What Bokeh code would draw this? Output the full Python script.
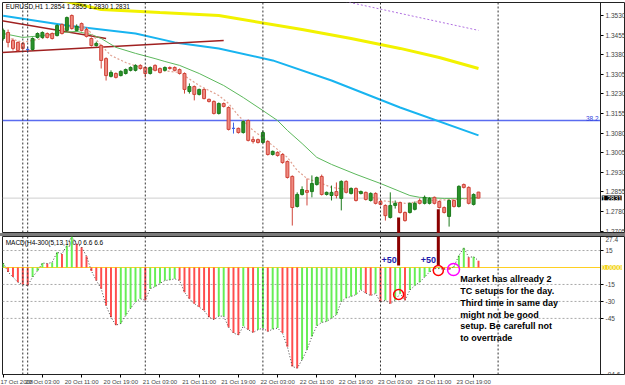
from bokeh.plotting import figure
from bokeh.models import (Range1d, LinearAxis, FixedTicker, Label, ColumnDataSource,
                          PrintfTickFormatter, Span, Div)
from bokeh.layouts import column
from bokeh.embed import file_html
from bokeh.resources import INLINE
from bokeh.core.properties import value

# ---------------- data ----------------
opens = [1.3442, 1.3465, 1.3434, 1.3427, 1.3423, 1.3400, 1.3400, 1.3446, 1.3446, 1.3461,
         1.3461, 1.3453, 1.3496, 1.3473, 1.3530, 1.3473, 1.3499, 1.3476, 1.3442, 1.3415,
         1.3415, 1.3365, 1.3297, 1.3308, 1.3300, 1.3308, 1.3320, 1.3320, 1.3339, 1.3331,
         1.3308, 1.3339, 1.3327, 1.3320, 1.3331, 1.3331, 1.3323, 1.3308, 1.3239, 1.3258,
         1.3228, 1.3247, 1.3209, 1.3201, 1.3155, 1.3193, 1.3178, 1.3098, 1.3098, 1.3082,
         1.3128, 1.3055, 1.3055, 1.3044, 1.3048, 1.2998, 1.3006, 1.2998, 1.2971, 1.2914,
         1.2799, 1.2845, 1.2860, 1.2856, 1.2883, 1.2914, 1.2845, 1.2841, 1.2856, 1.2830,
         1.2895, 1.2849, 1.2868, 1.2849, 1.2853, 1.2822, 1.2849, 1.2818, 1.2803, 1.2757,
         1.2803, 1.2814, 1.2776, 1.2776, 1.2788, 1.2822, 1.2811, 1.2811, 1.2834, 1.2818,
         1.2795, 1.2761, 1.2822, 1.2799, 1.2883, 1.2872, 1.2807, 1.2854]
highs = [1.3480, 1.3476, 1.3442, 1.3430, 1.3427, 1.3411, 1.3446, 1.3465, 1.3469, 1.3465,
         1.3465, 1.3496, 1.3499, 1.3526, 1.3534, 1.3496, 1.3503, 1.3484, 1.3446, 1.3430,
         1.3419, 1.3370, 1.3320, 1.3312, 1.3320, 1.3327, 1.3335, 1.3343, 1.3343, 1.3335,
         1.3335, 1.3343, 1.3331, 1.3335, 1.3335, 1.3335, 1.3327, 1.3312, 1.3270, 1.3262,
         1.3250, 1.3250, 1.3212, 1.3205, 1.3197, 1.3197, 1.3182, 1.3120, 1.3101, 1.3128,
         1.3132, 1.3067, 1.3059, 1.3090, 1.3052, 1.3013, 1.3010, 1.3002, 1.2975, 1.2918,
         1.2853, 1.2876, 1.2906, 1.2918, 1.2914, 1.2921, 1.2856, 1.2879, 1.2891, 1.2899,
         1.2899, 1.2872, 1.2872, 1.2860, 1.2856, 1.2853, 1.2853, 1.2822, 1.2807, 1.2853,
         1.2822, 1.2818, 1.2780, 1.2814, 1.2818, 1.2830, 1.2841, 1.2834, 1.2837, 1.2822,
         1.2799, 1.2826, 1.2826, 1.2880, 1.2887, 1.2876, 1.2849, 1.2855]
lows = [1.3434, 1.3408, 1.3396, 1.3392, 1.3396, 1.3388, 1.3396, 1.3442, 1.3442, 1.3442,
        1.3438, 1.3450, 1.3457, 1.3469, 1.3476, 1.3469, 1.3469, 1.3446, 1.3411, 1.3411,
        1.3327, 1.3281, 1.3293, 1.3289, 1.3297, 1.3304, 1.3316, 1.3316, 1.3323, 1.3293,
        1.3304, 1.3316, 1.3308, 1.3316, 1.3323, 1.3316, 1.3304, 1.3231, 1.3231, 1.3205,
        1.3224, 1.3209, 1.3197, 1.3151, 1.3151, 1.3178, 1.3090, 1.3078, 1.3078, 1.3078,
        1.3048, 1.3040, 1.3040, 1.3040, 1.2994, 1.2994, 1.2990, 1.2963, 1.2906, 1.2726,
        1.2795, 1.2841, 1.2803, 1.2834, 1.2879, 1.2841, 1.2841, 1.2822, 1.2830, 1.2784,
        1.2849, 1.2845, 1.2818, 1.2845, 1.2822, 1.2818, 1.2807, 1.2803, 1.2745, 1.2753,
        1.2791, 1.2772, 1.2741, 1.2772, 1.2784, 1.2807, 1.2807, 1.2807, 1.2807, 1.2791,
        1.2772, 1.2722, 1.2795, 1.2795, 1.2868, 1.2807, 1.2803, 1.2830]
closes = [1.3473, 1.3427, 1.3404, 1.3396, 1.3404, 1.3400, 1.3442, 1.3461, 1.3465, 1.3446,
          1.3442, 1.3492, 1.3461, 1.3522, 1.3480, 1.3488, 1.3473, 1.3450, 1.3415, 1.3423,
          1.3358, 1.3300, 1.3312, 1.3293, 1.3316, 1.3323, 1.3331, 1.3339, 1.3327, 1.3308,
          1.3331, 1.3320, 1.3312, 1.3331, 1.3327, 1.3320, 1.3308, 1.3247, 1.3258, 1.3228,
          1.3247, 1.3212, 1.3201, 1.3155, 1.3193, 1.3182, 1.3094, 1.3098, 1.3082, 1.3124,
          1.3052, 1.3048, 1.3044, 1.3082, 1.2998, 1.3010, 1.2994, 1.2967, 1.2910, 1.2795,
          1.2845, 1.2864, 1.2853, 1.2887, 1.2910, 1.2845, 1.2853, 1.2853, 1.2841, 1.2895,
          1.2853, 1.2868, 1.2822, 1.2856, 1.2826, 1.2849, 1.2811, 1.2807, 1.2764, 1.2803,
          1.2811, 1.2776, 1.2745, 1.2811, 1.2811, 1.2811, 1.2834, 1.2830, 1.2811, 1.2795,
          1.2776, 1.2822, 1.2799, 1.2876, 1.2872, 1.2811, 1.2845, 1.2831]

macd_hist = [4, -4, -8.5, -13, -15, -16, -8.5, -3, 4, 3.5,
             4.5, 13.5, 12, 19.5, 27.4, 21, 18, 10, -3, -11.5,
             -18.7, -33.6, -44, -51, -49.5, -42.4, -36, -30.6, -27.7, -29,
             -18.7, -17, -14, -11.5, -11, -10, -11.5, -21.8, -27.7, -32,
             -35, -38, -44, -46, -43, -43, -52.8, -58, -59.6, -52,
             -55, -57.5, -55, -53.6, -56.6, -54.5, -53.6, -58, -70, -87.5,
             -89, -81.6, -72.8, -61, -51.6, -48.6, -47.7, -44.8, -41.8, -30,
             -27, -25.6, -24, -19.7, -22.7, -24.8, -23, -30.6, -29, -32,
             -29, -23, -29, -20, -16, -13, -8.5, -4, -1, -1,
             -1.5, -2, 1, 10.6, 17.5, 9, 9.5, 6]

# moving averages / indicator lines (bar index, price)
ma_slow_idx = [0, 4, 8, 12, 15, 18, 20, 23, 27, 31, 33, 36, 40, 45, 49, 53, 56, 58, 61, 64,
               67, 72, 77, 83, 85, 90, 95, 97]
ma_slow_val = [1.3461, 1.3446, 1.3453, 1.3465, 1.3469, 1.3457, 1.3442, 1.3408, 1.3385, 1.3365,
               1.3354, 1.3339, 1.3308, 1.3262, 1.3216, 1.3166, 1.3128, 1.3090, 1.3040, 1.2987,
               1.2960, 1.2922, 1.2887, 1.2841, 1.2834, 1.2830, 1.2830, 1.2834]
ma_fast_idx = [0, 4, 8, 12, 14, 17, 20, 22, 25, 28, 32, 36, 40, 44, 46, 48, 51, 53, 55, 58,
               60, 62, 65, 67, 72, 77, 82, 87, 92, 97]
ma_fast_val = [1.3450, 1.3427, 1.3442, 1.3473, 1.3492, 1.3484, 1.3415, 1.3377, 1.3350, 1.3331,
               1.3320, 1.3312, 1.3262, 1.3224, 1.3193, 1.3147, 1.3090, 1.3063, 1.3032, 1.2987,
               1.2937, 1.2906, 1.2887, 1.2872, 1.2860, 1.2822, 1.2811, 1.2822, 1.2826, 1.2830]
cyan_idx = [0, 13, 27, 35, 44, 55, 67, 81, 97]
cyan_val = [1.3529, 1.3492, 1.3461, 1.3427, 1.3404, 1.3358, 1.3281, 1.3178, 1.3071]
yellow_idx = [4, 12, 20, 32, 44, 61, 71, 81, 89, 97]
yellow_val = [1.3626, 1.3587, 1.3553, 1.3541, 1.3530, 1.3476, 1.3442, 1.3404, 1.3369, 1.3327]
purple_idx = [69, 97]
purple_val = [1.3587, 1.3473]

trend_a_idx = [-0.6, 21]
trend_a_val = [1.3511, 1.3442]
trend_b_idx = [-0.6, 45]
trend_b_val = [1.3388, 1.3434]

fib_level = 1.3128
fib_label = "38.2"
day_separators = [4, 5, 29, 53, 77, 101]

price_ticks = [1.2705, 1.2780, 1.2855, 1.2930, 1.3005, 1.3080, 1.3155, 1.3230,
               1.3305, 1.3380, 1.3455, 1.3530]
macd_ticks = [27.4, 15, -15, -30, -45, -94.6]
macd_tick_labels = {27.4: "27.4", 15: "15", -15: "-15", -30: "-30", -45: "-45", -94.6: "-94.6"}
macd_grid = [15, -15, -30, -45]

time_ticks = [0, 8, 16, 24, 32, 40, 48, 56, 64, 72, 80, 88, 96]
time_labels = ["17 Oct 2008", "20 Oct 03:00", "20 Oct 11:00", "20 Oct 19:00",
               "21 Oct 03:00", "21 Oct 11:00", "21 Oct 19:00", "22 Oct 03:00",
               "22 Oct 11:00", "22 Oct 19:00", "23 Oct 03:00", "23 Oct 11:00",
               "23 Oct 19:00"]

# annotations drawn on the chart
signal_bars_idx = [80.7, 88.8]
signal_bars_top = [1.2757, 1.2788]
signal_bars_macd_bottom = [1.8, 1.8]
plus50_idx = [77.2, 85.2]
plus50_val = [7, 7]
red_circles_idx = [80.7, 88.8]
red_circles_val = [-23.9, -2.7]
magenta_circle_idx = [91.9]
magenta_circle_val = [-1.8]
note_text = "Market has allready 2\nTC setups for the day.\nThird time in same day\nmight not be good\nsetup. Be carefull not\nto overtrade"

symbol_header = "EURUSD,H1  1.2854 1.2855 1.2830 1.2831"
macd_header = "MACD(H4-300(5,13,1) 0.0 6.6 6.6"

# ---------------- layout constants ----------------
FONT = "Liberation Sans"
idx = list(range(len(opens)))
X_START, CHART_END, X_END = -0.14, 121.9, 127.0   # chart area ends at CHART_END, scale beyond
xr = Range1d(X_START, X_END)

RED_FILL, RED_LINE = "#ee8a80", "#d0453a"
GREEN_FILL, GREEN_LINE = "#2a922a", "#1c7a1c"
DOJI = "#3c64e6"


def style_axis(ax, size="6.5px"):
    ax.major_label_text_font_size = size
    ax.major_label_text_font = FONT
    ax.major_tick_out = 3
    ax.major_tick_in = 0
    ax.minor_tick_line_color = None
    ax.axis_line_color = None
    ax.major_label_standoff = 2


# ---------------- main price panel ----------------
p1 = figure(frame_width=623, frame_height=231, x_range=xr, y_range=Range1d(1.26956, 1.35797),
            x_axis_location=None, y_axis_location=None, output_backend="svg",
            toolbar_location=None, min_border_left=2, min_border_top=2,
            min_border_bottom=0, min_border_right=0)
p1.grid.visible = False
p1.outline_line_color = "#222222"
p1.background_fill_color = "white"
p1.border_fill_color = "white"

for d in day_separators:
    p1.add_layout(Span(location=d, dimension="height", line_color="#333333",
                       line_dash="2 2", line_width=1))
p1.add_layout(Span(location=CHART_END, dimension="height", line_color="#222222", line_width=1))

p1.line([X_START, CHART_END], [fib_level, fib_level], line_color="#5a6cf0", line_width=1.5)
p1.line([X_START, CHART_END], [closes[-1], closes[-1]], line_color="#cfcfcf", line_width=1)

p1.line(yellow_idx, yellow_val, line_color="#f2f200", line_width=3)
p1.line(purple_idx, purple_val, line_color="#b070e0", line_width=1, line_dash="2 2")
p1.line(cyan_idx, cyan_val, line_color="#18b4f0", line_width=2)
p1.line(trend_a_idx, trend_a_val, line_color="#a02020", line_width=1.6)
p1.line(trend_b_idx, trend_b_val, line_color="#a02020", line_width=1.6)
p1.line(ma_slow_idx, ma_slow_val, line_color="#5cb85c", line_width=1)
p1.line(ma_fast_idx, ma_fast_val, line_color="#e0a090", line_width=1.2, line_dash="2 2")

fill, line = [], []
for o, c in zip(opens, closes):
    if c > o:
        fill.append(GREEN_FILL); line.append(GREEN_LINE)
    elif c < o:
        fill.append(RED_FILL); line.append(RED_LINE)
    else:
        fill.append(DOJI); line.append(DOJI)
src = ColumnDataSource(dict(x=idx, o=opens, h=highs, l=lows, c=closes,
                            top=[max(a, b) for a, b in zip(opens, closes)],
                            bot=[min(a, b) for a, b in zip(opens, closes)],
                            fill=fill, line=line))
p1.segment(x0="x", y0="h", x1="x", y1="l", line_color="line", line_width=1, source=src)
p1.vbar(x="x", top="top", bottom="bot", width=0.6, fill_color="fill", line_color="line",
        line_width=1, source=src)

p1.segment(x0=signal_bars_idx, y0=signal_bars_top, x1=signal_bars_idx,
           y1=[1.2 for _ in signal_bars_idx], line_color="#8b0000", line_width=3)

p1.text(x=[0.5], y=[1.3565], text=[symbol_header], text_font=value(FONT),
        text_font_size="6.5px", text_color="black", text_baseline="middle")
p1.text(x=[121.5], y=[fib_level], text=[fib_label], text_font=value(FONT),
        text_font_size="6.5px", text_color="#3344dd", text_align="right",
        text_baseline="bottom")

ax1 = LinearAxis(ticker=FixedTicker(ticks=price_ticks), fixed_location=CHART_END,
                 formatter=PrintfTickFormatter(format="%.4f"))
style_axis(ax1)
p1.add_layout(ax1, "right")
p1.add_layout(Label(x=CHART_END + 0.25, y=closes[-1], text="%.4f" % closes[-1],
                    text_font=FONT, text_font_size="6.5px", text_color="white",
                    background_fill_color="black", text_baseline="middle", text_align="left"))

sep = Div(width=625, height=3, margin=0,
          styles={"background-color": "#7a7a7a", "font-size": "0px", "line-height": "0px",
                  "overflow": "hidden"})

# ---------------- MACD panel ----------------
p2 = figure(frame_width=623, frame_height=138, x_range=xr, y_range=Range1d(-94.6, 27.4),
            x_axis_location=None, y_axis_location=None, output_backend="svg",
            toolbar_location=None, min_border_left=2, min_border_top=0,
            min_border_bottom=0, min_border_right=0)
p2.grid.visible = False
p2.outline_line_color = "#222222"
p2.border_fill_color = "white"

for d in day_separators:
    p2.add_layout(Span(location=d, dimension="height", line_color="#333333",
                       line_dash="2 2", line_width=1))
p2.add_layout(Span(location=CHART_END, dimension="height", line_color="#222222", line_width=1))
for g in macd_grid:
    p2.line([X_START, CHART_END], [g, g], line_color="#a8a8a8", line_dash="2 2", line_width=1)
p2.line([X_START, CHART_END], [0, 0], line_color="#ffd020", line_width=1)

hcol = []
for k, v in enumerate(macd_hist):
    if k == 0 or v >= macd_hist[k - 1]:
        hcol.append("#66ee55")
    else:
        hcol.append("#ff4d4d")
p2.vbar(x=idx, top=macd_hist, bottom=0, width=0.4, fill_color=hcol, line_color=None)
p2.line(idx, macd_hist, line_color="#444444", line_width=1, line_dash="1 2")

p2.segment(x0=signal_bars_idx, y0=[40 for _ in signal_bars_idx], x1=signal_bars_idx,
           y1=signal_bars_macd_bottom, line_color="#8b0000", line_width=3)
p2.scatter(red_circles_idx, red_circles_val, marker="circle", size=10, fill_color=None,
           line_color="red", line_width=1.5)
p2.scatter(magenta_circle_idx, magenta_circle_val, marker="circle", size=12, fill_color=None,
           line_color="#ff00ff", line_width=1.5)
p2.text(x=plus50_idx, y=plus50_val, text=["+50"] * len(plus50_idx), text_font=value(FONT),
        text_font_size="9px", text_font_style="bold", text_color="#1c1caa",
        text_baseline="middle")
p2.text(x=[93.3], y=[-6], text=[note_text], text_font=value(FONT), text_font_size="9px",
        text_font_style="bold", text_color="black", text_baseline="top",
        text_line_height=1.18)
p2.text(x=[0.5], y=[22], text=[macd_header], text_font=value(FONT), text_font_size="6.5px",
        text_color="black", text_baseline="middle")

ax2 = LinearAxis(ticker=FixedTicker(ticks=macd_ticks), fixed_location=CHART_END)
ax2.major_label_overrides = macd_tick_labels
style_axis(ax2)
p2.add_layout(ax2, "right")
p2.add_layout(Label(x=CHART_END + 0.25, y=0, text="0.0000", text_font=FONT,
                    text_font_size="6.5px", text_color="white",
                    background_fill_color="#f2d21a", text_baseline="middle",
                    text_align="left"))

axb = LinearAxis(ticker=FixedTicker(ticks=time_ticks))
axb.major_label_overrides = {t: s for t, s in zip(time_ticks, time_labels)}
style_axis(axb, "6px")
axb.major_label_text_align = "left"
axb.major_label_standoff = 1
p2.add_layout(axb, "below")

layout = column(p1, sep, p2, spacing=0)
open("out.html", "w").write(file_html(layout, INLINE))
